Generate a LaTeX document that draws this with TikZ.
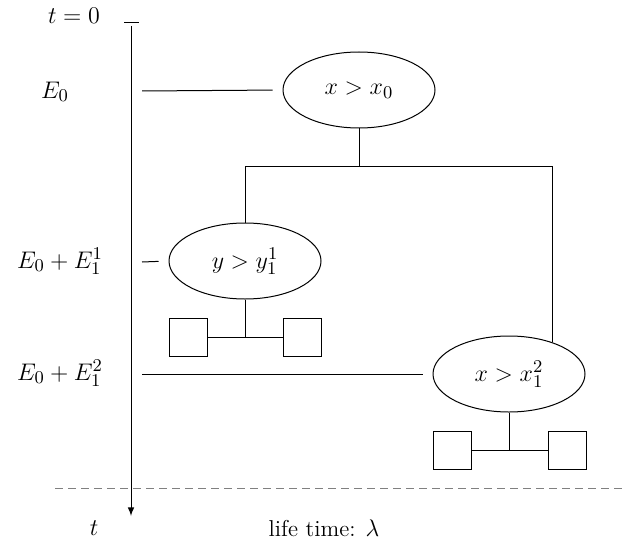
\documentclass[tikz,border=0pt,11pt]{standalone}
\usetikzlibrary{shapes.geometric}
\tikzset{
  test/.style={draw, ellipse, minimum width=76pt, minimum height=38pt, inner sep=0pt},
  leaf/.style={draw, minimum size=19pt, inner sep=0pt},
  level/.style={shorten >=5pt},
}
\begin{document}
\begin{tikzpicture}[x=0.5pt, y=-0.5pt, line width=0.5pt, font=\fontsize{13}{15}\selectfont]
  \useasboundingbox (0,0) rectangle (624,545);
  % time axis
  \coordinate (ttop) at (131,26);
  \coordinate (tbot) at (131,516);
  \coordinate (tickl) at (124,23);
  \coordinate (tickr) at (139,23);
  \draw[-latex] (ttop) -- (tbot);
  \draw (tickl) -- (tickr);
  \node (tzero) at (74,16) {$t = 0$};
  \node (tend) at (94,528) {$t$};
  \node (elev0) at (55,92) {$E_0$};
  \node (elev1) at (60,261) {$E_0 + E_1^1$};
  \node (elev2) at (60,373) {$E_0 + E_1^2$};
  % tests
  \node[test] (root) at (359,90) {$x > x_0$};
  \node[test] (ytest) at (245,261) {$y > y_1^1$};
  \node[test] (xtest) at (509,374) {$x > x_1^2$};
  \node[leaf] (yleafl) at (188,337) {};
  \node[leaf] (yleafr) at (302,337) {};
  \node[leaf] (xleafl) at (452,450) {};
  \node[leaf] (xleafr) at (567,450) {};
  % tree
  \draw (root.south) -- ++(0,38) coordinate (fork);
  \draw (ytest.north) |- (fork) -| (xtest.36);
  \draw (yleafl) -- (yleafr);
  \draw (ytest.south) -- (ytest.south |- yleafl);
  \draw (xleafl) -- (xleafr);
  \draw (xtest.south) -- (xtest.south |- xleafl);
  % levels
  \coordinate (lev0) at (142,91);
  \coordinate (lev1) at (142,262);
  \coordinate (lev2) at (142,374);
  \draw[level] (lev0) -- (root.west);
  \draw[level] (lev1) -- (ytest.west);
  \draw[level] (lev2) -- (xtest.west);
  % life time
  \coordinate (dashl) at (55,488);
  \coordinate (dashr) at (624,488);
  \draw[gray, dash pattern=on 4pt off 2.5pt] (dashl) -- (dashr);
  \node[font=\fontsize{11.5}{13}\selectfont] (life) at (324,528) {life time: $\lambda$};
\end{tikzpicture}
\end{document}
